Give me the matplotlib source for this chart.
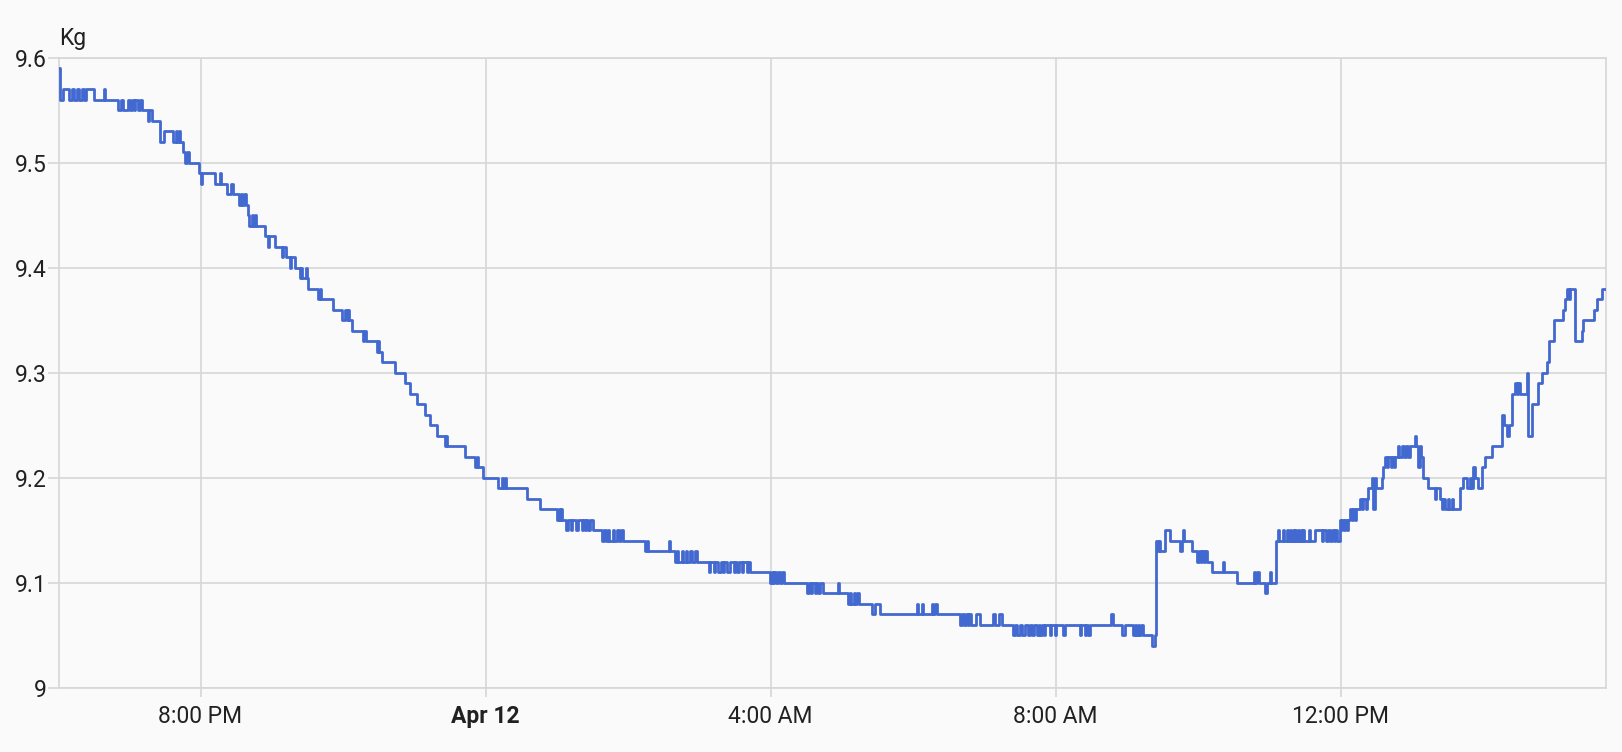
import matplotlib
matplotlib.use("Agg")
import matplotlib.pyplot as plt
import matplotlib.dates as mdates
import pandas as pd

plt.rcParams["font.family"] = ["Roboto", "DejaVu Sans"]

# (minutes after 6:00 PM Apr 11, kg) - step changes
evening = [
    (1, 9.59), (2, 9.56), (4.5, 9.57), (9.3, 9.56), (11.5, 9.57), (13.8, 9.56),
    (15.7, 9.57), (17.7, 9.56), (20, 9.57), (22.2, 9.56), (23.3, 9.57), (30.6, 9.56),
    (38.5, 9.57), (39.5, 9.56), (50.3, 9.55), (53, 9.56), (55, 9.55), (59, 9.56),
    (61, 9.55), (62, 9.56), (64, 9.55), (65, 9.56), (67, 9.55), (69, 9.56),
    (71, 9.55), (75.5, 9.54), (76.5, 9.55), (79.5, 9.54), (86, 9.52), (89, 9.53),
    (97, 9.52), (99, 9.53), (100, 9.52), (101.5, 9.53), (102.5, 9.52), (105.6, 9.51),
    (107, 9.50), (109, 9.51), (110, 9.50), (118.5, 9.49), (120, 9.48), (121.5, 9.49),
    (132, 9.48), (136, 9.49), (137, 9.48), (142, 9.47), (146, 9.48), (147.5, 9.47),
    (152.5, 9.46), (154, 9.47), (155, 9.46), (157, 9.47), (158, 9.46), (160, 9.45),
    (161, 9.44), (163, 9.45), (164, 9.44), (165.5, 9.45), (166.5, 9.44), (174.3, 9.43),
    (177, 9.42), (178, 9.43), (182.8, 9.42), (188.4, 9.41), (189.5, 9.42), (191.7, 9.41),
    (195.4, 9.40), (196.5, 9.41), (199.6, 9.40), (203.5, 9.39), (205, 9.40), (205.8, 9.39),
    (208.6, 9.40), (209.4, 9.39), (210.8, 9.38), (219.2, 9.37), (220.5, 9.38), (221.5, 9.37),
    (231.9, 9.36), (238.9, 9.35), (242, 9.36), (243, 9.35), (244, 9.36), (245, 9.35),
    (247.3, 9.34), (257.1, 9.33), (258, 9.34), (259, 9.33), (268.5, 9.32), (269.5, 9.33),
    (270.5, 9.32), (272.6, 9.31), (283.8, 9.30), (292.2, 9.29), (296.4, 9.28), (302, 9.27),
    (309.1, 9.26), (313.3, 9.25), (319.4, 9.24), (325.5, 9.23), (326.5, 9.24), (327.3, 9.23),
    (342.7, 9.22), (351.5, 9.21), (352.6, 9.22), (353.5, 9.21), (357.6, 9.20),
]

night = [
    (370.8, 9.19), (373.5, 9.20), (374.5, 9.19), (376.5, 9.20), (377.5, 9.19),
    (395, 9.18), (406, 9.17), (420, 9.16), (421.5, 9.17), (422.5, 9.16), (423.5, 9.17),
    (424.1, 9.16), (428, 9.15), (429, 9.16), (432, 9.15), (433, 9.16), (436.5, 9.15),
    (437.5, 9.16), (441, 9.15), (442, 9.16), (443.5, 9.15), (444.5, 9.16), (446, 9.15),
    (448, 9.16), (450.8, 9.15), (457.8, 9.14), (460, 9.15), (461, 9.14), (463, 9.15),
    (464, 9.14), (467, 9.15), (468.5, 9.14), (471, 9.15), (472, 9.14), (474, 9.15),
    (476, 9.14), (494.3, 9.13), (495.5, 9.14), (497, 9.13), (514.5, 9.14), (515.3, 9.13),
    (519.6, 9.12), (521, 9.13), (522, 9.12), (525, 9.13), (526, 9.12), (528.5, 9.13),
    (530, 9.12), (532, 9.13), (534, 9.12), (536, 9.13), (538, 9.12), (548, 9.11),
    (549, 9.12), (552, 9.11), (553, 9.12), (556, 9.11), (558, 9.12), (560, 9.11),
    (561, 9.12), (563, 9.11), (566, 9.12), (569, 9.11), (570, 9.12), (572, 9.11),
    (573, 9.12), (576, 9.11), (577, 9.12), (580, 9.11), (581, 9.12), (582.7, 9.11),
    (599.6, 9.10), (601, 9.11), (602, 9.10), (603, 9.11), (604.5, 9.10), (606, 9.11),
    (608, 9.10), (610, 9.11), (611, 9.10), (630.5, 9.09), (632, 9.10), (634, 9.09),
    (635, 9.10), (637, 9.09), (638, 9.10), (640, 9.09), (642, 9.10), (644, 9.09),
    (656.8, 9.10), (657.5, 9.09), (665.5, 9.08), (667, 9.09), (668, 9.08), (670, 9.09),
    (671, 9.08), (673, 9.09), (674, 9.08), (685.2, 9.07), (688, 9.08), (692.2, 9.07),
    (723.1, 9.08), (724.5, 9.07), (727.5, 9.08), (728.7, 9.07), (735.7, 9.08), (737, 9.07),
    (738.5, 9.08), (739.9, 9.07),
]

morning = [
    (759.6, 9.06), (761, 9.07), (762.5, 9.06), (764.5, 9.07), (766, 9.06), (767, 9.07),
    (769, 9.06), (773, 9.07), (776.4, 9.06), (787.6, 9.07), (789, 9.06), (792, 9.07),
    (794.7, 9.06), (804.5, 9.05), (806, 9.06), (807.5, 9.05), (810, 9.06), (812, 9.05),
    (814, 9.06), (816.5, 9.05), (818, 9.06), (820, 9.05), (822, 9.06), (824, 9.05),
    (826, 9.06), (827, 9.05), (828.5, 9.06), (830, 9.05), (831, 9.06), (835, 9.05),
    (836, 9.06), (839.5, 9.05), (840.5, 9.06), (846.5, 9.05), (847.5, 9.06), (860.5, 9.05),
    (861.5, 9.06), (864.5, 9.05), (865.5, 9.06), (867.5, 9.05), (868.5, 9.06), (887, 9.07),
    (888, 9.06), (895.7, 9.05), (898.5, 9.06), (905.5, 9.05), (907, 9.06), (908, 9.05),
    (909.5, 9.06), (910.5, 9.05), (912, 9.06), (913.5, 9.05), (921, 9.04), (923.5, 9.05),
    (924.6, 9.14), (926, 9.13), (927, 9.14), (928, 9.13), (932.2, 9.15), (936.4, 9.14),
    (944.8, 9.13), (946.2, 9.14), (947, 9.15), (947.8, 9.14), (954.6, 9.13), (959, 9.12),
    (960.5, 9.13), (962, 9.12), (963, 9.13), (965, 9.12), (966, 9.13), (967.3, 9.12),
    (971.5, 9.11), (981, 9.12), (982, 9.11), (992.5, 9.10), (1006.6, 9.11), (1008, 9.10),
    (1009.5, 9.11), (1010.8, 9.10), (1016.4, 9.09), (1017.8, 9.10), (1020.3, 9.11),
    (1021.2, 9.10), (1025.7, 9.14), (1027, 9.15), (1027.8, 9.14), (1031.8, 9.15),
    (1032.6, 9.14), (1035.2, 9.15), (1036, 9.14), (1037.4, 9.15), (1038.2, 9.14),
    (1039.7, 9.15), (1040.5, 9.14), (1041.6, 9.15), (1042.4, 9.14), (1044.4, 9.15),
    (1045.2, 9.14), (1046.4, 9.15), (1047.2, 9.14), (1048.6, 9.15), (1049.4, 9.14),
    (1053.7, 9.15), (1054.5, 9.14), (1058.5, 9.15), (1064, 9.14), (1065, 9.15),
    (1068, 9.14), (1069, 9.15), (1071, 9.14), (1072.5, 9.15), (1074, 9.14),
    (1075.5, 9.15), (1076.7, 9.14),
]

afternoon = [
    (1079, 9.16), (1080.5, 9.15), (1081.5, 9.16), (1083, 9.15), (1084, 9.16),
    (1085.5, 9.15), (1086.5, 9.16), (1088, 9.17), (1089.5, 9.16), (1090.5, 9.17),
    (1092, 9.16), (1093, 9.17), (1096.4, 9.18), (1098, 9.17), (1099, 9.18), (1101, 9.17),
    (1102, 9.18), (1103.4, 9.19), (1106, 9.20), (1107, 9.19), (1107.6, 9.17), (1108.5, 9.19),
    (1109, 9.20), (1110, 9.19), (1114.6, 9.20), (1116, 9.21), (1117.4, 9.22), (1119, 9.21),
    (1120, 9.22), (1122, 9.21), (1123, 9.22), (1125, 9.21), (1126, 9.22), (1128.6, 9.23),
    (1129.5, 9.22), (1132, 9.23), (1133, 9.22), (1135, 9.23), (1136.5, 9.22), (1138, 9.23),
    (1142.7, 9.24), (1143.5, 9.23), (1145.5, 9.21), (1146.5, 9.23), (1147.5, 9.22),
    (1149.7, 9.20), (1153.1, 9.19), (1159, 9.18), (1160, 9.19), (1163.7, 9.18),
    (1165.1, 9.17), (1166.5, 9.18), (1168, 9.17), (1170, 9.18), (1171.5, 9.17),
    (1173.6, 9.18), (1174.5, 9.17), (1180.6, 9.19), (1183.4, 9.20), (1186.2, 9.19),
    (1189, 9.20), (1190, 9.19), (1191.8, 9.21), (1193.2, 9.20), (1196, 9.19),
    (1198.8, 9.21), (1201.6, 9.22), (1207.3, 9.23), (1215.7, 9.26), (1217.1, 9.25),
    (1219.9, 9.24), (1221.3, 9.25), (1224.1, 9.28), (1226.9, 9.29), (1228.5, 9.28),
    (1229.5, 9.29), (1231.1, 9.28), (1236.7, 9.30), (1237.5, 9.24), (1240.9, 9.27),
    (1246.5, 9.29), (1249.4, 9.30), (1253.6, 9.31), (1255, 9.33), (1259.2, 9.35),
    (1267.6, 9.36), (1269, 9.37), (1270.4, 9.38), (1272, 9.37), (1273, 9.38),
    (1277.4, 9.33), (1283, 9.34), (1284.4, 9.35), (1292.9, 9.36), (1295.7, 9.37),
    (1299.9, 9.38), (1303.2, 9.38),
]

y_ticks = [9.0, 9.1, 9.2, 9.3, 9.4, 9.5, 9.6]
y_labels = ["9", "9.1", "9.2", "9.3", "9.4", "9.5", "9.6"]
x_tick_hours = [2, 6, 10, 14, 18]
x_labels = ["8:00 PM", "Apr 12", "4:00 AM", "8:00 AM", "12:00 PM"]
unit = "Kg"

points = evening + night + morning + afternoon
base = pd.Timestamp("2024-04-11 18:00")
times = [base + pd.Timedelta(minutes=m) for m, _ in points]
kg = [v for _, v in points]

bg = "#fafafa"
grid_c = "#d6d6d6"
fig = plt.figure(figsize=(16.22, 7.52), dpi=100)
fig.patch.set_facecolor(bg)
ax = fig.add_axes([0.0365, 0.0855, 0.9535, 0.8378])
ax.set_facecolor(bg)

ax.plot(mdates.date2num(times), kg, drawstyle="steps-post", color="#4269d0", lw=2.0,
        solid_joinstyle="round", zorder=3)

ax.set_xlim(mdates.date2num(base + pd.Timedelta(minutes=1)),
            mdates.date2num(base + pd.Timedelta(minutes=1303.2)))
ax.set_ylim(9.0, 9.6)

ax.set_yticks(y_ticks)
ax.set_yticklabels(y_labels)
ax.set_xticks([mdates.date2num(base + pd.Timedelta(hours=h)) for h in x_tick_hours])
ax.set_xticklabels(x_labels)
ax.get_xticklabels()[1].set_fontweight("bold")

ax.grid(True, color=grid_c, lw=1.2)
ax.set_axisbelow(True)
for s in ax.spines.values():
    s.set_color(grid_c)
    s.set_linewidth(1.2)
ax.tick_params(axis="x", length=6.5, width=1.2, color=grid_c, pad=6, labelsize=16.5,
               labelcolor="#212121")
ax.tick_params(axis="y", length=8, width=1.2, color=grid_c, pad=1, labelsize=16.5,
               labelcolor="#212121")

ax.text(0.0, 1.012, unit, transform=ax.transAxes, fontsize=16.5, color="#212121",
        ha="left", va="bottom")

fig.savefig("out.png", dpi=100, facecolor=bg)
